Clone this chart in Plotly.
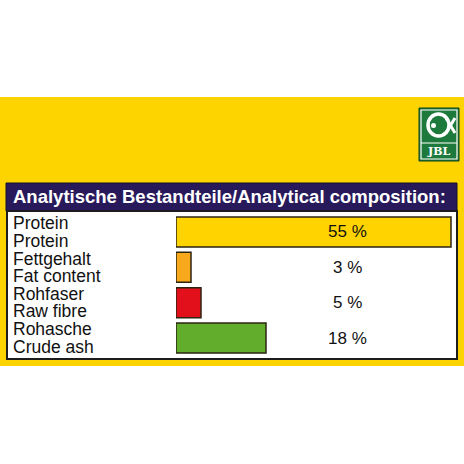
import plotly.graph_objects as go

categories = ["Protein", "Fat content", "Raw fibre", "Crude ash"]
labels_de = ["Protein", "Fettgehalt", "Rohfaser", "Rohasche"]
labels_en = ["Protein", "Fat content", "Raw fibre", "Crude ash"]
values = [55, 3, 5, 18]
bar_colors = ["#FFD300", "#F7A81B", "#E2101A", "#62AE2C"]
title_text = "Analytische Bestandteile/Analytical composition:"

W = H = 464
FONT = "Liberation Sans, Arial, sans-serif"


def px(x):
    return x / W


def py(y):
    return 1 - y / H


def rect(x0, y0, x1, y1, fill, line_color=None, line_width=0):
    return dict(
        type="rect", xref="paper", yref="paper", layer="below",
        x0=px(x0), x1=px(x1), y0=py(y1), y1=py(y0),
        fillcolor=fill,
        line=dict(color=line_color or fill, width=line_width),
    )


fig = go.Figure(
    go.Bar(
        x=values,
        y=categories,
        orientation="h",
        width=0.85,
        marker=dict(color=bar_colors, line=dict(color="#2b2410", width=1.5)),
        hoverinfo="skip",
    )
)

shapes = [
    rect(0, 97, 464, 366, "#FDD300"),
    rect(6, 183, 457, 211, "#28195B", "#14102e", 1),
    rect(7, 211, 457, 359, "#FFFFFF", "#1c1c1c", 2),
    # JBL logo
    rect(419, 108, 459, 161, "#1E7A3C", "#0f4020", 1),
    dict(type="rect", xref="paper", yref="paper", layer="above",
         x0=px(421), x1=px(457), y0=py(159), y1=py(110),
         line=dict(color="white", width=1.2)),
    dict(type="circle", xref="paper", yref="paper", layer="above",
         x0=px(428), x1=px(449), y0=py(136), y1=py(114),
         line=dict(color="white", width=3.5)),
    dict(type="line", xref="paper", yref="paper", layer="above",
         x0=px(446), x1=px(455), y0=py(118), y1=py(133),
         line=dict(color="white", width=3)),
    dict(type="line", xref="paper", yref="paper", layer="above",
         x0=px(446), x1=px(455), y0=py(133), y1=py(118),
         line=dict(color="white", width=3)),
    dict(type="circle", xref="paper", yref="paper", layer="above",
         x0=px(431), x1=px(436), y0=py(128), y1=py(123),
         fillcolor="white", line=dict(color="white", width=0)),
    dict(type="line", xref="paper", yref="paper", layer="above",
         x0=px(421), x1=px(457), y0=py(143), y1=py(143),
         line=dict(color="white", width=1.2)),
]

annotations = [
    dict(text="<b>" + title_text + "</b>", xref="paper", yref="paper",
         x=px(11), y=py(197), xanchor="left", yanchor="middle",
         showarrow=False, font=dict(family=FONT, size=18.5, color="white")),
    dict(text="<b>JBL</b>", xref="paper", yref="paper",
         x=px(439), y=py(151.5), xanchor="center", yanchor="middle",
         showarrow=False, font=dict(family="DejaVu Serif, serif", size=11, color="white")),
]

for cat, de, en, v in zip(categories, labels_de, labels_en, values):
    annotations.append(dict(text=de, xref="paper", yref="y", x=px(10.5), y=cat,
                            xanchor="left", yanchor="middle", yshift=8.7, showarrow=False,
                            font=dict(family=FONT, size=17.5, color="#111111")))
    annotations.append(dict(text=en, xref="paper", yref="y", x=px(10.5), y=cat,
                            xanchor="left", yanchor="middle", yshift=-8.7, showarrow=False,
                            font=dict(family=FONT, size=17.5, color="#111111")))
    annotations.append(dict(text=f"{v} %", xref="paper", yref="y", x=px(347), y=cat,
                            xanchor="center", yanchor="middle", showarrow=False,
                            font=dict(family=FONT, size=17, color="#111111")))

fig.update_layout(
    width=W,
    height=H,
    autosize=False,
    margin=dict(l=0, r=0, t=0, b=0),
    paper_bgcolor="white",
    plot_bgcolor="rgba(0,0,0,0)",
    showlegend=False,
    shapes=shapes,
    annotations=annotations,
    xaxis=dict(domain=[px(176), px(456)], range=[0, 56], visible=False, fixedrange=True),
    yaxis=dict(domain=[py(355.7), py(214.3)], range=[3.5, -0.5], visible=False,
               categoryorder="array", categoryarray=categories, fixedrange=True),
)

# the page body has a default 8px margin; drop it so the figure fills the window
fig.write_html("out.html", config={"displayModeBar": False},
               post_script="document.body.style.margin='0';")
